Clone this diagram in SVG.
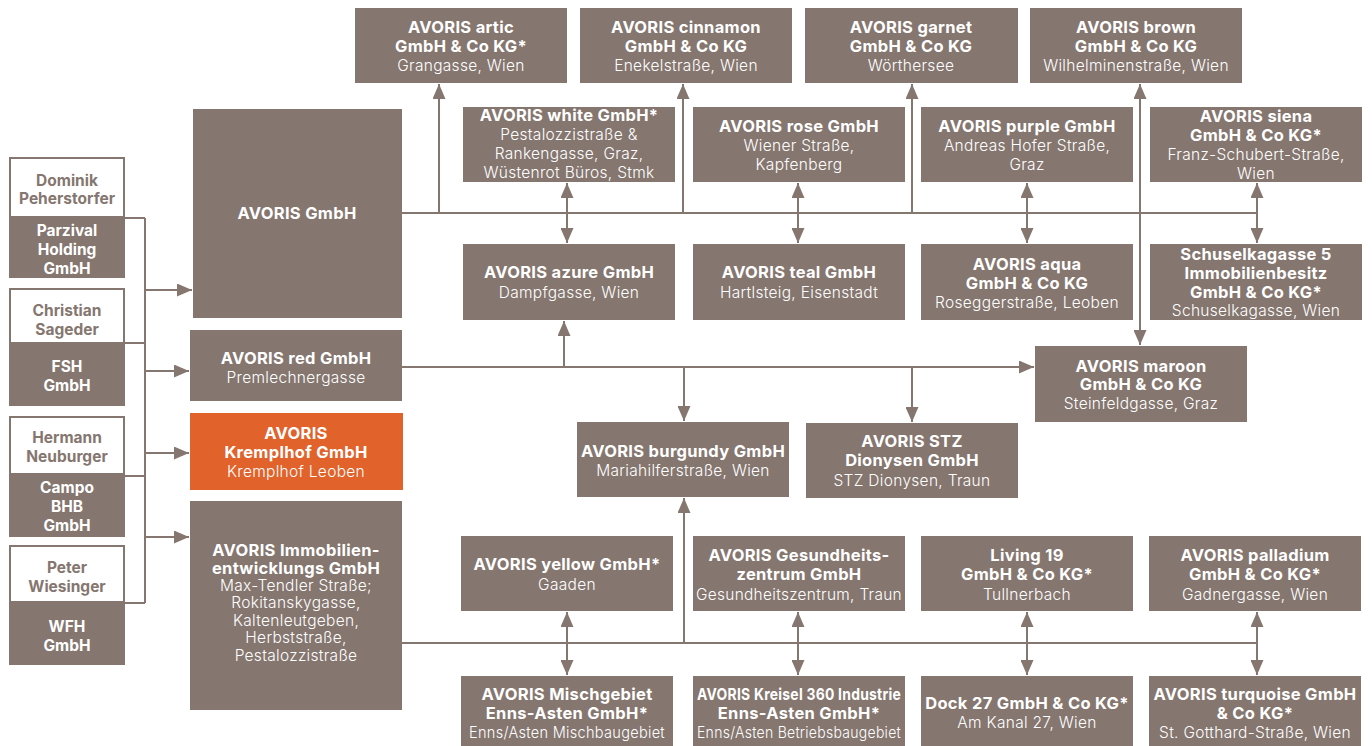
<svg xmlns="http://www.w3.org/2000/svg" width="1372" height="746" viewBox="0 0 1372 746">
<defs>
<style>
.b{fill:#85766F}
.o{fill:#E1622B}
.p{fill:#fff;stroke:#85766F;stroke-width:2}
text{font-family:Inter,"Liberation Sans",sans-serif;text-anchor:middle}
.t{fill:#fff;font-size:16.5px;font-weight:700;letter-spacing:0.3px}
.a{fill:#fff;font-size:15.5px;font-weight:300;letter-spacing:0.3px}
.pt{fill:#85766F;font-size:15.5px;font-weight:700}
.pw{fill:#fff;font-size:15.5px;font-weight:700}
.c{stroke:#85766F;stroke-width:2;fill:none}
</style>
<marker id="ah" markerUnits="userSpaceOnUse" markerWidth="15" markerHeight="13" refX="15" refY="6.5" orient="auto-start-reverse">
<path d="M0,0 L15,6.5 L0,13 z" fill="#85766F"/>
</marker>
</defs>

<g id="connectors">
<path class="c" d="M125,218 H145 M125,343 H145 M125,476 H145 M125,603 H145 M145,218 V603"/>
<path class="c" d="M145,290 H192" marker-end="url(#ah)"/>
<path class="c" d="M145,371 H189" marker-end="url(#ah)"/>
<path class="c" d="M145,453 H189" marker-end="url(#ah)"/>
<path class="c" d="M145,537 H189" marker-end="url(#ah)"/>
<path class="c" d="M402,213 H1257"/>
<path class="c" d="M439,213 V84" marker-end="url(#ah)"/>
<path class="c" d="M683,213 V84" marker-end="url(#ah)"/>
<path class="c" d="M912,213 V84" marker-end="url(#ah)"/>
<path class="c" d="M1140,84 V345" marker-start="url(#ah)" marker-end="url(#ah)"/>
<path class="c" d="M567,183 V243" marker-start="url(#ah)" marker-end="url(#ah)"/>
<path class="c" d="M798,183 V243" marker-start="url(#ah)" marker-end="url(#ah)"/>
<path class="c" d="M1027,183 V243" marker-start="url(#ah)" marker-end="url(#ah)"/>
<path class="c" d="M1257,183 V243" marker-start="url(#ah)" marker-end="url(#ah)"/>
<path class="c" d="M402,367 H1034" marker-end="url(#ah)"/>
<path class="c" d="M564,367 V321" marker-end="url(#ah)"/>
<path class="c" d="M684,367 V421" marker-end="url(#ah)"/>
<path class="c" d="M912,367 V422" marker-end="url(#ah)"/>
<path class="c" d="M402,643 H1257"/>
<path class="c" d="M684,643 V498" marker-end="url(#ah)"/>
<path class="c" d="M567,612 V675" marker-start="url(#ah)" marker-end="url(#ah)"/>
<path class="c" d="M798,612 V675" marker-start="url(#ah)" marker-end="url(#ah)"/>
<path class="c" d="M1027,612 V675" marker-start="url(#ah)" marker-end="url(#ah)"/>
<path class="c" d="M1257,612 V675" marker-start="url(#ah)" marker-end="url(#ah)"/>
</g>

<g id="dominik"><rect class="p" x="10" y="158" width="114" height="59"/><text class="pt" x="67" y="186">Dominik</text><text class="pt" x="67" y="204">Peherstorfer</text></g>
<g id="parzival"><rect class="b" x="9" y="217" width="116" height="61"/><text class="pw" x="67" y="236">Parzival</text><text class="pw" x="67" y="255">Holding</text><text class="pw" x="67" y="274">GmbH</text></g>
<g id="christian"><rect class="p" x="10" y="289" width="114" height="54"/><text class="pt" x="67" y="316">Christian</text><text class="pt" x="67" y="335">Sageder</text></g>
<g id="fsh"><rect class="b" x="9" y="343" width="116" height="63"/><text class="pw" x="67" y="372">FSH</text><text class="pw" x="67" y="391">GmbH</text></g>
<g id="hermann"><rect class="p" x="10" y="417" width="114" height="57"/><text class="pt" x="67" y="443">Hermann</text><text class="pt" x="67" y="462">Neuburger</text></g>
<g id="campo"><rect class="b" x="9" y="474" width="116" height="63"/><text class="pw" x="67" y="493">Campo</text><text class="pw" x="67" y="512">BHB</text><text class="pw" x="67" y="531">GmbH</text></g>
<g id="peter"><rect class="p" x="10" y="546" width="114" height="56"/><text class="pt" x="67" y="573">Peter</text><text class="pt" x="67" y="592">Wiesinger</text></g>
<g id="wfh"><rect class="b" x="9" y="602" width="116" height="63"/><text class="pw" x="67" y="632">WFH</text><text class="pw" x="67" y="651">GmbH</text></g>

<g id="avoris-gmbh"><rect class="b" x="193" y="109" width="209" height="209"/><text class="t" x="297" y="219">AVORIS GmbH</text></g>
<g id="avoris-red"><rect class="b" x="190" y="330" width="212" height="71"/><text class="t" x="296" y="364">AVORIS red GmbH</text><text class="a" x="296" y="383">Premlechnergasse</text></g>
<g id="avoris-kremplhof"><rect class="o" x="190" y="413" width="213" height="77"/><text class="t" x="296" y="439">AVORIS</text><text class="t" x="296" y="458">Kremplhof GmbH</text><text class="a" x="296" y="477">Kremplhof Leoben</text></g>
<g id="avoris-immo"><rect class="b" x="190" y="501" width="212" height="209"/><text class="t" x="296" y="556">AVORIS Immobilien-</text><text class="t" x="296" y="574">entwicklungs GmbH</text><text class="a" x="296" y="591">Max-Tendler Straße;</text><text class="a" x="296" y="608">Rokitanskygasse,</text><text class="a" x="296" y="626">Kaltenleutgeben,</text><text class="a" x="296" y="643">Herbststraße,</text><text class="a" x="296" y="661">Pestalozzistraße</text></g>

<g id="artic"><rect class="b" x="355" y="8" width="212" height="75"/><text class="t" x="461" y="33">AVORIS artic</text><text class="t" x="461" y="52">GmbH &amp; Co KG*</text><text class="a" x="461" y="71">Grangasse, Wien</text></g>
<g id="cinnamon"><rect class="b" x="580" y="8" width="212" height="75"/><text class="t" x="686" y="33">AVORIS cinnamon</text><text class="t" x="686" y="52">GmbH &amp; Co KG</text><text class="a" x="686" y="71">Enekelstraße, Wien</text></g>
<g id="garnet"><rect class="b" x="805" y="8" width="213" height="75"/><text class="t" x="911" y="33">AVORIS garnet</text><text class="t" x="911" y="52">GmbH &amp; Co KG</text><text class="a" x="911" y="71">Wörthersee</text></g>
<g id="brown"><rect class="b" x="1030" y="8" width="212" height="75"/><text class="t" x="1136" y="33">AVORIS brown</text><text class="t" x="1136" y="52">GmbH &amp; Co KG</text><text class="a" x="1136" y="71">Wilhelminenstraße, Wien</text></g>

<g id="white"><rect class="b" x="463" y="107" width="212" height="75"/><text class="t" x="569" y="121">AVORIS white GmbH*</text><text class="a" x="569" y="140">Pestalozzistraße &amp;</text><text class="a" x="569" y="159">Rankengasse, Graz,</text><text class="a" x="569" y="178">Wüstenrot Büros, Stmk</text></g>
<g id="rose"><rect class="b" x="693" y="107" width="212" height="75"/><text class="t" x="799" y="132">AVORIS rose GmbH</text><text class="a" x="799" y="151">Wiener Straße,</text><text class="a" x="799" y="170">Kapfenberg</text></g>
<g id="purple"><rect class="b" x="921" y="107" width="212" height="75"/><text class="t" x="1027" y="132">AVORIS purple GmbH</text><text class="a" x="1027" y="151">Andreas Hofer Straße,</text><text class="a" x="1027" y="170">Graz</text></g>
<g id="siena"><rect class="b" x="1150" y="107" width="212" height="75"/><text class="t" x="1256" y="122">AVORIS siena</text><text class="t" x="1256" y="141">GmbH &amp; Co KG*</text><text class="a" x="1256" y="160">Franz-Schubert-Straße,</text><text class="a" x="1256" y="179">Wien</text></g>

<g id="azure"><rect class="b" x="463" y="244" width="212" height="76"/><text class="t" x="569" y="278">AVORIS azure GmbH</text><text class="a" x="569" y="298">Dampfgasse, Wien</text></g>
<g id="teal"><rect class="b" x="693" y="244" width="212" height="76"/><text class="t" x="799" y="278">AVORIS teal GmbH</text><text class="a" x="799" y="298">Hartlsteig, Eisenstadt</text></g>
<g id="aqua"><rect class="b" x="921" y="244" width="212" height="76"/><text class="t" x="1027" y="270">AVORIS aqua</text><text class="t" x="1027" y="289">GmbH &amp; Co KG</text><text class="a" x="1027" y="308">Roseggerstraße, Leoben</text></g>
<g id="schusel"><rect class="b" x="1150" y="244" width="212" height="76"/><text class="t" x="1256" y="260">Schuselkagasse 5</text><text class="t" x="1256" y="279">Immobilienbesitz</text><text class="t" x="1256" y="298">GmbH &amp; Co KG*</text><text class="a" x="1256" y="316">Schuselkagasse, Wien</text></g>

<g id="maroon"><rect class="b" x="1035" y="346" width="212" height="76"/><text class="t" x="1141" y="372">AVORIS maroon</text><text class="t" x="1141" y="390">GmbH &amp; Co KG</text><text class="a" x="1141" y="409">Steinfeldgasse, Graz</text></g>
<g id="burgundy"><rect class="b" x="577" y="422" width="212" height="75"/><text class="t" x="683" y="457">AVORIS burgundy GmbH</text><text class="a" x="683" y="476">Mariahilferstraße, Wien</text></g>
<g id="stz"><rect class="b" x="806" y="423" width="212" height="75"/><text class="t" x="912" y="447">AVORIS STZ</text><text class="t" x="912" y="466">Dionysen GmbH</text><text class="a" x="912" y="486">STZ Dionysen, Traun</text></g>

<g id="yellow"><rect class="b" x="461" y="536" width="212" height="75"/><text class="t" x="567" y="570">AVORIS yellow GmbH*</text><text class="a" x="567" y="590">Gaaden</text></g>
<g id="gesundheit"><rect class="b" x="693" y="536" width="212" height="75"/><text class="t" x="799" y="561">AVORIS Gesundheits-</text><text class="t" x="799" y="580">zentrum GmbH</text><text class="a" x="799" y="600" textLength="206" lengthAdjust="spacingAndGlyphs">Gesundheitszentrum, Traun</text></g>
<g id="living"><rect class="b" x="921" y="536" width="212" height="75"/><text class="t" x="1027" y="561">Living 19</text><text class="t" x="1027" y="580">GmbH &amp; Co KG*</text><text class="a" x="1027" y="600">Tullnerbach</text></g>
<g id="palladium"><rect class="b" x="1149" y="536" width="212" height="75"/><text class="t" x="1255" y="561">AVORIS palladium</text><text class="t" x="1255" y="580">GmbH &amp; Co KG*</text><text class="a" x="1255" y="600">Gadnergasse, Wien</text></g>

<g id="mischgebiet"><rect class="b" x="461" y="676" width="212" height="70"/><text class="t" x="567" y="700">AVORIS Mischgebiet</text><text class="t" x="567" y="719">Enns-Asten GmbH*</text><text class="a" x="567" y="738" textLength="196" lengthAdjust="spacingAndGlyphs">Enns/Asten Mischbaugebiet</text></g>
<g id="kreisel"><rect class="b" x="693" y="676" width="212" height="70"/><text class="t" x="799" y="700" textLength="204" lengthAdjust="spacingAndGlyphs">AVORIS Kreisel 360 Industrie</text><text class="t" x="799" y="719">Enns-Asten GmbH*</text><text class="a" x="799" y="738" textLength="204" lengthAdjust="spacingAndGlyphs">Enns/Asten Betriebsbaugebiet</text></g>
<g id="dock"><rect class="b" x="921" y="676" width="212" height="70"/><text class="t" x="1027" y="709">Dock 27 GmbH &amp; Co KG*</text><text class="a" x="1027" y="728">Am Kanal 27, Wien</text></g>
<g id="turquoise"><rect class="b" x="1149" y="676" width="212" height="70"/><text class="t" x="1255" y="700">AVORIS turquoise GmbH</text><text class="t" x="1255" y="719">&amp; Co KG*</text><text class="a" x="1255" y="738">St. Gotthard-Straße, Wien</text></g>
</svg>
